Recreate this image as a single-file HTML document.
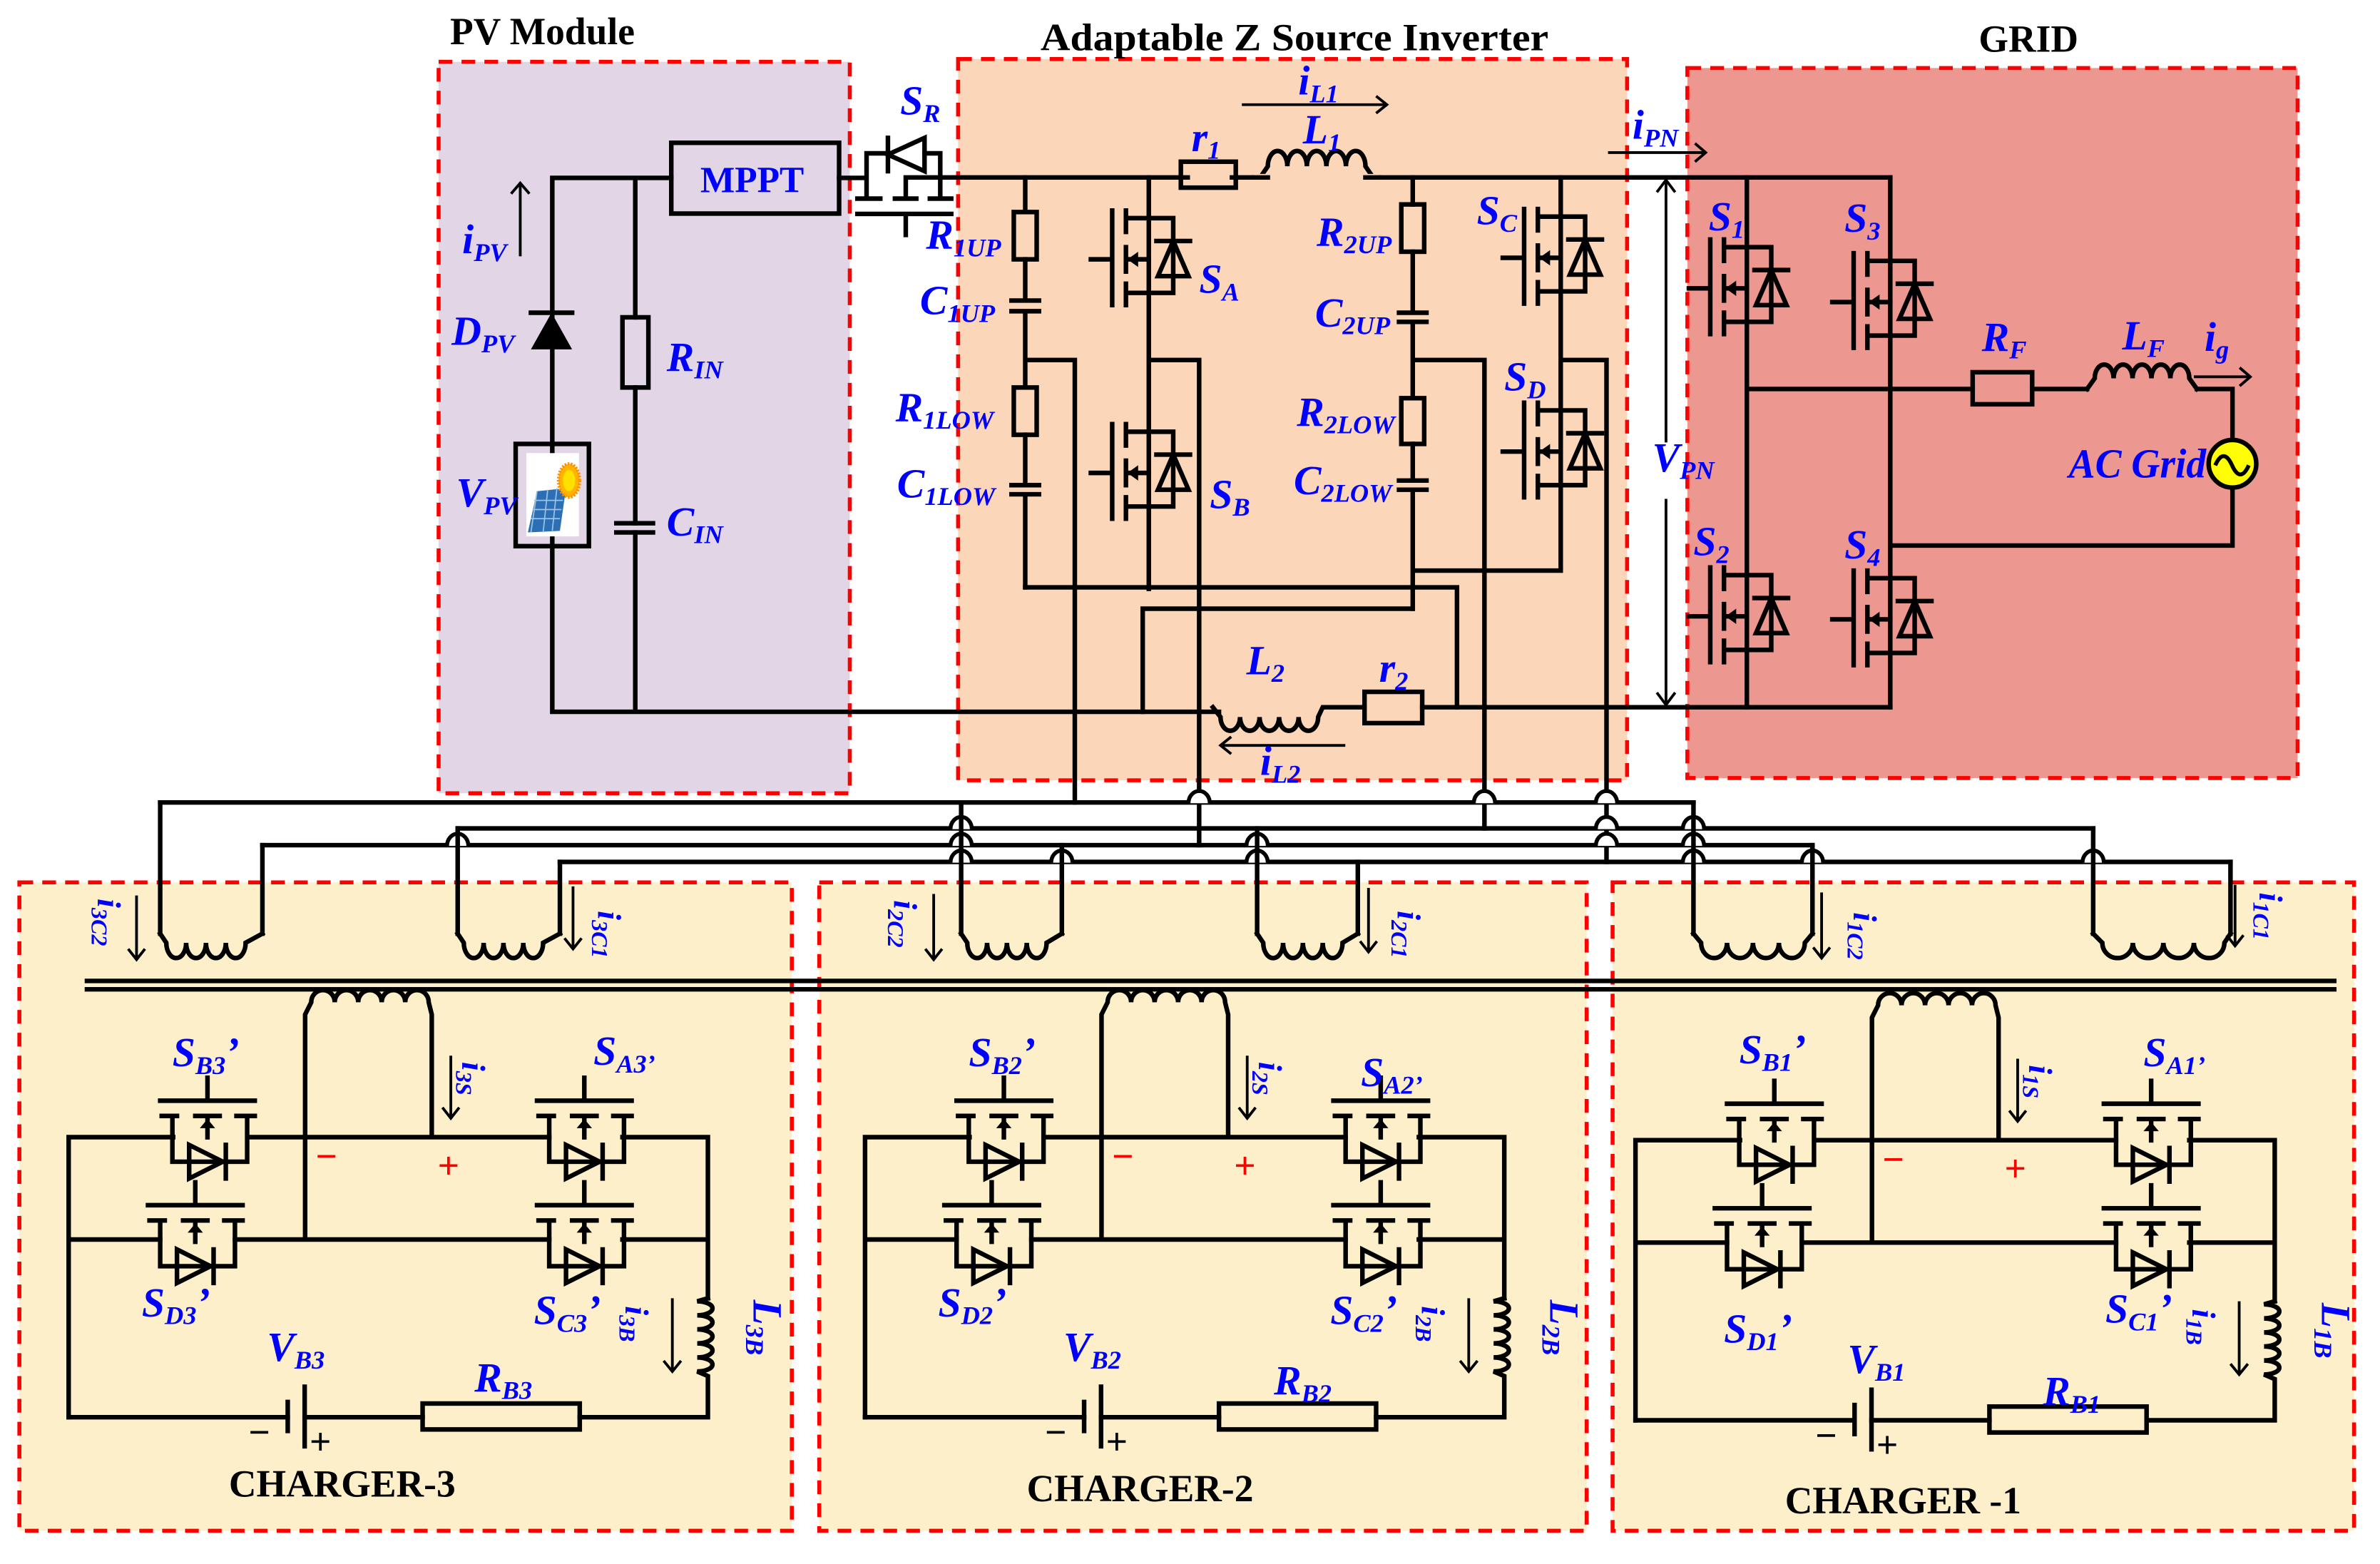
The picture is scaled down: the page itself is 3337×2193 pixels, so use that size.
<!DOCTYPE html>
<html><head><meta charset="utf-8"><style>
html,body{margin:0;padding:0;background:#fff}
svg{display:block}
.w{fill:none;stroke:#000;stroke-width:3;stroke-linejoin:miter;stroke-linecap:square}
.thin{fill:none;stroke:#000;stroke-width:1.8}
.box{stroke:#ff0000;stroke-width:2.6;stroke-dasharray:9 6}
.t{font-family:"Liberation Serif",serif;font-weight:bold;font-size:25px;fill:#000}
.l{font-family:"Liberation Serif",serif;font-weight:bold;font-style:italic;font-size:27px;fill:#0000ff}
.s{font-size:17px}
.m{font-family:"Liberation Serif",serif;font-weight:bold;font-size:24px;fill:#0000ff}
.r{font-family:"Liberation Sans",sans-serif;font-size:24px;fill:#ff0000}
.k{font-family:"Liberation Sans",sans-serif;font-size:24px;fill:#000}
</style></head><body>
<svg width="3337" height="2193" viewBox="0 0 1560 1025.2" preserveAspectRatio="none" xmlns="http://www.w3.org/2000/svg">
<defs>
<g id="vsw">
<path class="w" d="M-24,0V62 M-38,32H-24 M-15,0V14 M-15,24V40 M-15,48V62 M-15,5H16V54H-15 M-15,32H0"/>
<path d="M-14,32 l7,-5 v10z" fill="#000"/>
<path class="w" d="M5,20H27 M16,20 L6,43 H26 Z"/>
</g>
<g id="hsw">
<path class="w" d="M0,-15V0 M-31,0H31 M-30,10H-20 M-8,10H8 M19,10H31 M-23,10V40H26V10 M0,10V24"/>
<path d="M0,12 l-5,6 h10z" fill="#000"/>
<path class="w" d="M-12,29V51L10,40Z M12,29V51"/>
</g>
<g id="bridge">
<path class="w" d="M45,745.4H113.5 M162.6,745.4H360 M408,745.4H464V851 M45,745.4V929 M45,812.5H105 M154,812.5H360 M408,812.5H464 M200,812.5V665 L204,657 a7.7,8 0 1,1 15.4,0 a7.7,8 0 1,1 15.4,0 a7.7,8 0 1,1 15.4,0 a7.7,8 0 1,1 15.4,0 a7.7,8 0 1,1 15.4,0 L283,665V745.4"/>
<path class="w" d="M464,851 L457,853 a10,4.6 0 1,1 0,9.2 a10,4.6 0 1,1 0,9.2 a10,4.6 0 1,1 0,9.2 a10,4.6 0 1,1 0,9.2 a10,4.6 0 1,1 0,9.2 L464,902V929H380 M277,929H199.7 M188.6,929H45"/>
<rect x="277" y="920" width="103" height="17" class="w" fill="none"/>
<path class="w" d="M188.6,919V938 M199.7,909V948"/>
<use href="#hsw" x="136" y="721.5"/>
<use href="#hsw" x="128" y="790"/>
<use href="#hsw" x="383" y="721.5"/>
<use href="#hsw" x="383" y="790"/>
<path class="thin" d="M295.5,692V733 M290,726l5.5,7l5.5,-7"/>
<path class="thin" d="M440.7,851V899 M435,892l5.7,7l5.7,-7"/>
<text class="r" x="207" y="766">−</text>
<text class="r" x="287" y="772">+</text>
<text class="k" x="163" y="947">−</text>
<text class="k" x="203" y="953">+</text>
</g>
</defs>

<!-- boxes -->
<rect x="287.5" y="40.5" width="269.5" height="479.5" fill="#e2d6e6" class="box"/>
<rect x="628" y="38.7" width="438.5" height="472.8" fill="#fcd6b8" class="box"/>
<rect x="1106" y="44.6" width="400" height="465.4" fill="#ec978f" class="box"/>
<rect x="12.7" y="578.4" width="506.3" height="425" fill="#fdefc9" class="box"/>
<rect x="537" y="578.4" width="503" height="425" fill="#fdefc9" class="box"/>
<rect x="1057" y="578.4" width="486" height="425" fill="#fdefc9" class="box"/>

<!-- titles -->
<text class="t" x="295" y="29">PV Module</text>
<text class="t" x="682" y="33" textLength="333" lengthAdjust="spacingAndGlyphs">Adaptable Z Source Inverter</text>
<text class="t" x="1297" y="34">GRID</text>

<!-- PV module -->
<path class="w" d="M362,116.6H440 M362,116.6V466.6 M416.4,116.6V208 M416.4,254V343 M416.4,349V466.6 M362,466.6H799"/>
<rect x="408" y="208" width="17" height="46" fill="#fdeee0" class="w"/>
<path class="w" d="M404,343H428 M404,349H428"/>
<path d="M361.5,205 L348,229 H375 Z" fill="#000"/>
<path class="w" d="M348,205H375"/>
<rect x="338" y="291" width="48" height="67" fill="#fff" class="w"/>
<rect x="345" y="297" width="34.5" height="54.6" fill="#fff"/>
<path d="M352,322 L371,320 L367,348 L346,349 Z" fill="#2d6fb5"/>
<path d="M350,328H369 M349,334H368 M348,340H367 M352,322L348,349 M359,321L356,349 M365,320L362,348" stroke="#9cc3e6" stroke-width="0.8"/>
<ellipse cx="373" cy="315" rx="7" ry="11" fill="#ffb400" stroke="#ff8a00" stroke-width="2" stroke-dasharray="1 1"/>
<ellipse cx="373" cy="315" rx="4" ry="7" fill="#ffe000"/>
<rect x="440" y="93.6" width="110" height="46.4" fill="none" class="w"/>
<text class="m" x="459" y="126">MPPT</text>
<path class="thin" d="M341,168V120 M335,127l6,-7l6,7"/>
<text class="l" x="303" y="166">i<tspan class="s" dy="5">PV</tspan></text>
<text class="l" x="296" y="226">D<tspan class="s" dy="5">PV</tspan></text>
<text class="l" x="299" y="332">V<tspan class="s" dy="5">PV</tspan></text>
<text class="l" x="437" y="243">R<tspan class="s" dy="5">IN</tspan></text>
<text class="l" x="437" y="351">C<tspan class="s" dy="5">IN</tspan></text>

<!-- SR -->
<path class="w" d="M550,116.6H568 M568,100.5V130 M616.3,100.5V130 M568,100.5H582 M606,100.5H616.3 M593.7,116.3H1239 M593.7,116.3V128 M562,130.2H577 M586.6,130.2H600.6 M609.5,130.2H623.5 M562,140.2H623.5 M593.7,140.2V154"/>
<path class="w" d="M582,90.4V112.2 M582,101.3 L606,90.4 V112.2 Z"/>
<text class="l" x="590" y="75">S<tspan class="s" dy="5">R</tspan></text>

<!-- Z source -->
<rect x="774" y="106" width="36" height="17" fill="#fcd6b8" class="w"/>
<rect x="780" y="112" width="26" height="8" fill="#fcd6b8"/>
<path class="w" d="M826,116.3 L831,109 a6.4,10 0 1,1 12.8,0 a6.4,10 0 1,1 12.8,0 a6.4,10 0 1,1 12.8,0 a6.4,10 0 1,1 12.8,0 a6.4,10 0 1,1 12.8,0 L900,116.3"/>
<rect x="822" y="114" width="82" height="5" fill="#fcd6b8"/>
<path class="w" d="M822,116.3H831 M895,116.3H904"/>
<path class="w" d="M672,116.3V139 M672,170V197 M672,204V254 M672,285V318 M672,324V385 M663,197H681 M663,204H681 M663,318H681 M663,324H681 M672,236H704.5V526"/>
<rect x="664.5" y="139" width="15" height="31" fill="none" class="w"/>
<rect x="664.5" y="254" width="15" height="31" fill="none" class="w"/>
<path class="w" d="M753,116.3V386 M753,236H786V554 M672,385H955V463.6 M749,399H926 M749,399V466.6"/>
<use href="#vsw" x="753" y="138"/>
<use href="#vsw" x="753" y="278"/>
<path class="w" d="M926,116.3V134 M926,165V205 M926,211V261 M926,291V315 M926,321V399 M917,205H935 M917,211H935 M917,315H935 M917,321H935 M926,236H973V543 M926,374H1023 M1023,116.3V374 M1023,236H1053V565"/>
<rect x="918.5" y="134" width="15" height="31" fill="none" class="w"/>
<rect x="918.5" y="261" width="15" height="30" fill="none" class="w"/>
<use href="#vsw" x="1023" y="137"/>
<use href="#vsw" x="1023" y="264"/>
<!-- L2 and r2 -->
<path class="w" d="M795,463.6 L800,470 a6.4,9 0 1,0 12.8,0 a6.4,9 0 1,0 12.8,0 a6.4,9 0 1,0 12.8,0 a6.4,9 0 1,0 12.8,0 a6.4,9 0 1,0 12.8,0 L867,463.6 H894.4 M932.2,463.6H1239"/>
<rect x="894.4" y="453.5" width="37.8" height="20.5" fill="none" class="w"/>
<path class="thin" d="M814,68.6H909 M902,63l7,5.6l-7,5.6"/>
<path class="thin" d="M881.8,488.6H800 M807,483l-7,5.6l7,5.6"/>
<text class="l" x="781" y="99">r<tspan class="s" dy="5">1</tspan></text>
<text class="l" x="854" y="94">L<tspan class="s" dy="5">1</tspan></text>
<text class="l" x="851" y="62">i<tspan class="s" dy="5">L1</tspan></text>
<text class="l" x="817" y="442">L<tspan class="s" dy="5">2</tspan></text>
<text class="l" x="904" y="447">r<tspan class="s" dy="5">2</tspan></text>
<text class="l" x="826" y="508">i<tspan class="s" dy="5">L2</tspan></text>
<text class="l" x="607" y="163">R<tspan class="s" dy="5">1UP</tspan></text>
<text class="l" x="603" y="206">C<tspan class="s" dy="5">1UP</tspan></text>
<text class="l" x="587" y="276">R<tspan class="s" dy="5">1LOW</tspan></text>
<text class="l" x="588" y="326">C<tspan class="s" dy="5">1LOW</tspan></text>
<text class="l" x="786" y="192">S<tspan class="s" dy="5">A</tspan></text>
<text class="l" x="793" y="333">S<tspan class="s" dy="5">B</tspan></text>
<text class="l" x="863" y="161">R<tspan class="s" dy="5">2UP</tspan></text>
<text class="l" x="862" y="214">C<tspan class="s" dy="5">2UP</tspan></text>
<text class="l" x="850" y="279">R<tspan class="s" dy="5">2LOW</tspan></text>
<text class="l" x="848" y="324">C<tspan class="s" dy="5">2LOW</tspan></text>
<text class="l" x="968" y="147">S<tspan class="s" dy="5">C</tspan></text>
<text class="l" x="986" y="256">S<tspan class="s" dy="5">D</tspan></text>

<!-- VPN and iPN -->
<path class="thin" d="M1092,118V290 M1092,327V462 M1086,126l6,-8l6,8 M1086,454l6,8l6,-8"/>
<text class="l" x="1083" y="309">V<tspan class="s" dy="5">PN</tspan></text>
<path class="thin" d="M1054,100H1118 M1111,94l7,6l-7,6"/>
<text class="l" x="1070" y="91">i<tspan class="s" dy="5">PN</tspan></text>

<!-- Grid -->
<path class="w" d="M1145,116.3V463.6 M1239,116.3V463.6 M1145,255H1293 M1332,255H1368 M1239,357.6H1463.3V320 M1463.3,288V255H1440"/>
<rect x="1293" y="244" width="39" height="21" fill="none" class="w"/>
<path class="w" d="M1368,255 L1373,248 a6.2,9 0 1,1 12.4,0 a6.2,9 0 1,1 12.4,0 a6.2,9 0 1,1 12.4,0 a6.2,9 0 1,1 12.4,0 a6.2,9 0 1,1 12.4,0 L1440,255"/>
<use href="#vsw" x="1145" y="157"/>
<use href="#vsw" x="1239" y="166"/>
<use href="#vsw" x="1145" y="372"/>
<use href="#vsw" x="1239" y="374"/>
<circle cx="1463.3" cy="304" r="15.6" fill="#ffff00" stroke="#000" stroke-width="3"/>
<path d="M1452,305 q5.5,-12 11,0 t11,0" fill="none" stroke="#000" stroke-width="2.6"/>
<path class="thin" d="M1438,247H1475 M1468,241l7,6l-7,6"/>
<text class="l" x="1120" y="151">S<tspan class="s" dy="5">1</tspan></text>
<text class="l" x="1209" y="152">S<tspan class="s" dy="5">3</tspan></text>
<text class="l" x="1110" y="364">S<tspan class="s" dy="5">2</tspan></text>
<text class="l" x="1209" y="366">S<tspan class="s" dy="5">4</tspan></text>
<text class="l" x="1299" y="230">R<tspan class="s" dy="5">F</tspan></text>
<text class="l" x="1391" y="229">L<tspan class="s" dy="5">F</tspan></text>
<text class="l" x="1445" y="230">i<tspan class="s" dy="5">g</tspan></text>
<text class="l" x="1356" y="313" textLength="90" lengthAdjust="spacingAndGlyphs">AC Grid</text>

<!-- interconnect wires -->
<path class="w" d="M105,526H1110 M300,543H1372 M172,554H1188 M367,565H1462"/>
<g fill="#fff" stroke="#000" stroke-width="2.6">
<path d="M779,526.5 a7,8 0 0,1 14,0 M966,526.5 a7,8 0 0,1 14,0 M1046,526.5 a7,8 0 0,1 14,0"/>
<path d="M623,543.5 a7,8 0 0,1 14,0 M1046,543.5 a7,8 0 0,1 14,0 M1103,543.5 a7,8 0 0,1 14,0"/>
<path d="M293,554.5 a7,8 0 0,1 14,0 M623,554.5 a7,8 0 0,1 14,0 M817,554.5 a7,8 0 0,1 14,0 M1046,554.5 a7,8 0 0,1 14,0 M1103,554.5 a7,8 0 0,1 14,0"/>
<path d="M623,565.5 a7,8 0 0,1 14,0 M689,565.5 a7,8 0 0,1 14,0 M817,565.5 a7,8 0 0,1 14,0 M1103,565.5 a7,8 0 0,1 14,0 M1181,565.5 a7,8 0 0,1 14,0 M1365,565.5 a7,8 0 0,1 14,0"/>
</g>
<path class="w" d="M105,526V612 M172,554V612 M300,543V612 M367,565V612 M630,526V612 M696,554V612 M824,543V612 M890,565V612 M1110,526V612 M1188,554V612 M1372,543V612 M1462,565V612"/>
<!-- primary coils -->
<g class="w">
<path d="M105,612 L109,618 a6.5,10 0 1,0 13,0 a6.5,10 0 1,0 13,0 a6.5,10 0 1,0 13,0 a6.5,10 0 1,0 13,0 L172,612"/>
<path d="M300,612 L304,618 a6.5,10 0 1,0 13,0 a6.5,10 0 1,0 13,0 a6.5,10 0 1,0 13,0 a6.5,10 0 1,0 13,0 L367,612"/>
<path d="M630,612 L634,618 a6.5,10 0 1,0 13,0 a6.5,10 0 1,0 13,0 a6.5,10 0 1,0 13,0 a6.5,10 0 1,0 13,0 L696,612"/>
<path d="M824,612 L828,618 a6.5,10 0 1,0 13,0 a6.5,10 0 1,0 13,0 a6.5,10 0 1,0 13,0 a6.5,10 0 1,0 13,0 L890,612"/>
<path d="M1110,612 L1115,618 a8.5,10 0 1,0 17,0 a8.5,10 0 1,0 17,0 a8.5,10 0 1,0 17,0 a8.5,10 0 1,0 17,0 L1188,612"/>
<path d="M1372,612 L1378,618 a10,10 0 1,0 20,0 a10,10 0 1,0 20,0 a10,10 0 1,0 20,0 a10,10 0 1,0 20,0 L1462,612"/>
</g>
<path class="w" d="M57,643H1530 M57,648.5H1530"/>

<!-- chargers -->
<use href="#bridge"/>
<use href="#bridge" x="522" y="0"/>
<use href="#bridge" x="1027" y="2"/>

<!-- charger current arrows -->
<path class="thin" d="M89.5,587V629 M84,622l5.5,7l5.5,-7 M375.6,581V622 M370,615l5.6,7l5.6,-7 M612,586V629 M606.5,622l5.5,7l5.5,-7 M897,582V624 M891.5,617l5.5,7l5.5,-7 M1194,585V628 M1188.5,621l5.5,7l5.5,-7 M1465,580V620 M1459.5,613l5.5,7l5.5,-7"/>
<text class="l" transform="translate(64,589) rotate(90)" style="font-size:22px">i<tspan class="s" dy="4" style="font-size:15px">3C2</tspan></text>
<text class="l" transform="translate(392,597) rotate(90)" style="font-size:22px">i<tspan class="s" dy="4" style="font-size:15px">3C1</tspan></text>
<text class="l" transform="translate(586,590) rotate(90)" style="font-size:22px">i<tspan class="s" dy="4" style="font-size:15px">2C2</tspan></text>
<text class="l" transform="translate(916,597) rotate(90)" style="font-size:22px">i<tspan class="s" dy="4" style="font-size:15px">2C1</tspan></text>
<text class="l" transform="translate(1215,598) rotate(90)" style="font-size:22px">i<tspan class="s" dy="4" style="font-size:15px">1C2</tspan></text>
<text class="l" transform="translate(1481,585) rotate(90)" style="font-size:22px">i<tspan class="s" dy="4" style="font-size:15px">1C1</tspan></text>

<text class="l" transform="translate(303,696) rotate(90)" style="font-size:22px">i<tspan class="s" dy="4" style="font-size:15px">3S</tspan></text>
<text class="l" transform="translate(825,696) rotate(90)" style="font-size:22px">i<tspan class="s" dy="4" style="font-size:15px">2S</tspan></text>
<text class="l" transform="translate(1330,698) rotate(90)" style="font-size:22px">i<tspan class="s" dy="4" style="font-size:15px">1S</tspan></text>
<text class="l" transform="translate(410,856) rotate(90)" style="font-size:22px">i<tspan class="s" dy="4" style="font-size:15px">3B</tspan></text>
<text class="l" transform="translate(932,856) rotate(90)" style="font-size:22px">i<tspan class="s" dy="4" style="font-size:15px">2B</tspan></text>
<text class="l" transform="translate(1437,858) rotate(90)" style="font-size:22px">i<tspan class="s" dy="4" style="font-size:15px">1B</tspan></text>
<text class="l" transform="translate(494,852) rotate(90)">L<tspan class="s" dy="5">3B</tspan></text>
<text class="l" transform="translate(1016,852) rotate(90)">L<tspan class="s" dy="5">2B</tspan></text>
<text class="l" transform="translate(1522,854) rotate(90)">L<tspan class="s" dy="5">1B</tspan></text>

<!-- charger 3 labels -->
<text class="l" x="113" y="699">S<tspan class="s" dy="5">B3</tspan><tspan dy="-5">’</tspan></text>
<text class="l" x="389" y="698">S<tspan class="s" dy="5">A3’</tspan></text>
<text class="l" x="93" y="863">S<tspan class="s" dy="5">D3</tspan><tspan dy="-5">’</tspan></text>
<text class="l" x="350" y="868">S<tspan class="s" dy="5">C3</tspan><tspan dy="-5">’</tspan></text>
<text class="l" x="175" y="892">V<tspan class="s" dy="5">B3</tspan></text>
<text class="l" x="311" y="912">R<tspan class="s" dy="5">B3</tspan></text>
<text class="t" x="150" y="981">CHARGER-3</text>
<!-- charger 2 labels -->
<text class="l" x="635" y="699">S<tspan class="s" dy="5">B2</tspan><tspan dy="-5">’</tspan></text>
<text class="l" x="892" y="712">S<tspan class="s" dy="5">A2’</tspan></text>
<text class="l" x="615" y="863">S<tspan class="s" dy="5">D2</tspan><tspan dy="-5">’</tspan></text>
<text class="l" x="872" y="868">S<tspan class="s" dy="5">C2</tspan><tspan dy="-5">’</tspan></text>
<text class="l" x="697" y="892">V<tspan class="s" dy="5">B2</tspan></text>
<text class="l" x="835" y="914">R<tspan class="s" dy="5">B2</tspan></text>
<text class="t" x="673" y="984">CHARGER-2</text>
<!-- charger 1 labels -->
<text class="l" x="1140" y="697">S<tspan class="s" dy="5">B1</tspan><tspan dy="-5">’</tspan></text>
<text class="l" x="1405" y="699">S<tspan class="s" dy="5">A1’</tspan></text>
<text class="l" x="1130" y="880">S<tspan class="s" dy="5">D1</tspan><tspan dy="-5">’</tspan></text>
<text class="l" x="1380" y="867">S<tspan class="s" dy="5">C1</tspan><tspan dy="-5">’</tspan></text>
<text class="l" x="1211" y="900">V<tspan class="s" dy="5">B1</tspan></text>
<text class="l" x="1339" y="921">R<tspan class="s" dy="5">B1</tspan></text>
<text class="t" x="1170" y="992">CHARGER -1</text>
</svg>
</body></html>
